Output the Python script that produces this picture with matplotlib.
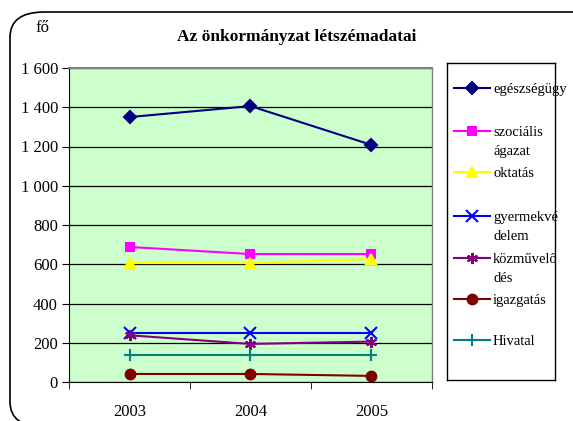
import matplotlib
matplotlib.use("Agg")
import matplotlib.pyplot as plt
from matplotlib.patches import FancyBboxPatch
from matplotlib.lines import Line2D

# Data
years = ["2003", "2004", "2005"]
series_names = ["egészségügy", "szociális\nágazat", "oktatás", "gyermekvé\ndelem",
                "közművelő\ndés", "igazgatás", "Hivatal"]
egeszsegugy = [1350, 1406, 1208]
szocialis = [688, 652, 652]
oktatas = [606, 606, 627]
gyermekvedelem = [250, 250, 250]
kozmuvelodes = [238, 194, 206]
igazgatas = [41, 41, 31]
hivatal = [138, 138, 138]
y_ticks = [0, 200, 400, 600, 800, 1000, 1200, 1400, 1600]
y_tick_labels = ["0", "200", "400", "600", "800", "1 000", "1 200", "1 400", "1 600"]

values = [egeszsegugy, szocialis, oktatas, gyermekvedelem, kozmuvelodes, igazgatas, hivatal]
colors = ["#000080", "#FF00FF", "#FFFF00", "#0000FF", "#800080", "#800000", "#008080"]
markers = ["D", "s", "^", "x", (6, 2, 0), "o", "+"]
msizes = [6, 6, 7, 8, 8, 7, 8]

plt.rcParams["font.family"] = ["Liberation Serif", "DejaVu Serif"]

fig = plt.figure(figsize=(5.73, 4.21), dpi=100)

# rounded outer frame
frame = FancyBboxPatch((10 / 573, -6 / 421), 600 / 573, 415 / 421,
                       boxstyle="round,pad=0,rounding_size=0.06",
                       transform=fig.transFigure, facecolor="none",
                       edgecolor="black", linewidth=1.2)
fig.patches.append(frame)

ax = fig.add_axes([69 / 573, 1 - 382 / 421, 363 / 573, 314 / 421])
ax.set_facecolor("#CCFFCC")

x = list(range(len(years)))
for vals, c, m, ms in zip(values, colors, markers, msizes):
    ax.plot(x, vals, color=c, marker=m, markersize=ms, linewidth=1.5,
            markeredgewidth=1.5, markerfacecolor=c, markeredgecolor=c, zorder=3)

ax.set_xlim(-0.5, 2.5)
ax.set_ylim(0, 1600)
ax.set_yticks(y_ticks)
ax.set_yticklabels(y_tick_labels, fontsize=12)
ax.set_xticks(x)
ax.set_xticklabels(years, fontsize=12)
ax.set_xticks([-0.5, 0.5, 1.5, 2.5], minor=True)
ax.tick_params(axis="x", which="major", length=0, pad=16)
ax.tick_params(axis="x", which="minor", length=5, direction="out")
ax.tick_params(axis="y", length=5, direction="out", pad=3)
ax.grid(axis="y", color="black", linewidth=0.9, zorder=1)
ax.set_axisbelow(True)
ax.spines["top"].set_color("#808080")
ax.spines["right"].set_color("#808080")
ax.spines["top"].set_linewidth(1.5)
ax.spines["right"].set_linewidth(1.0)

fig.text(297 / 573, 1 - 37 / 421, "Az önkormányzat létszémadatai",
         ha="center", va="center", fontsize=12.5, fontweight="bold")
fig.text(42 / 573, 1 - 28 / 421, "fő", ha="center", va="center", fontsize=12)

# legend box drawn as its own axes
lax = fig.add_axes([447 / 573, 1 - 380 / 421, 108 / 573, 317 / 421])
lax.set_xlim(0, 108)
lax.set_ylim(380, 63)
lax.set_xticks([])
lax.set_yticks([])
for s in lax.spines.values():
    s.set_color("black")
    s.set_linewidth(1.0)
entry_y = [88, 131, 172, 216, 258, 299, 340]
for name, c, m, ms, yy in zip(series_names, colors, markers, msizes, entry_y):
    lax.add_line(Line2D([7, 43], [yy, yy], color=c, linewidth=1.5))
    lax.plot([25], [yy], marker=m, color=c, markersize=ms, markeredgewidth=1.5)
    lax.text(46, yy - 5, name, ha="left", va="top", fontsize=10.5,
             linespacing=1.55, clip_on=False)

fig.savefig("out.png", dpi=100)
